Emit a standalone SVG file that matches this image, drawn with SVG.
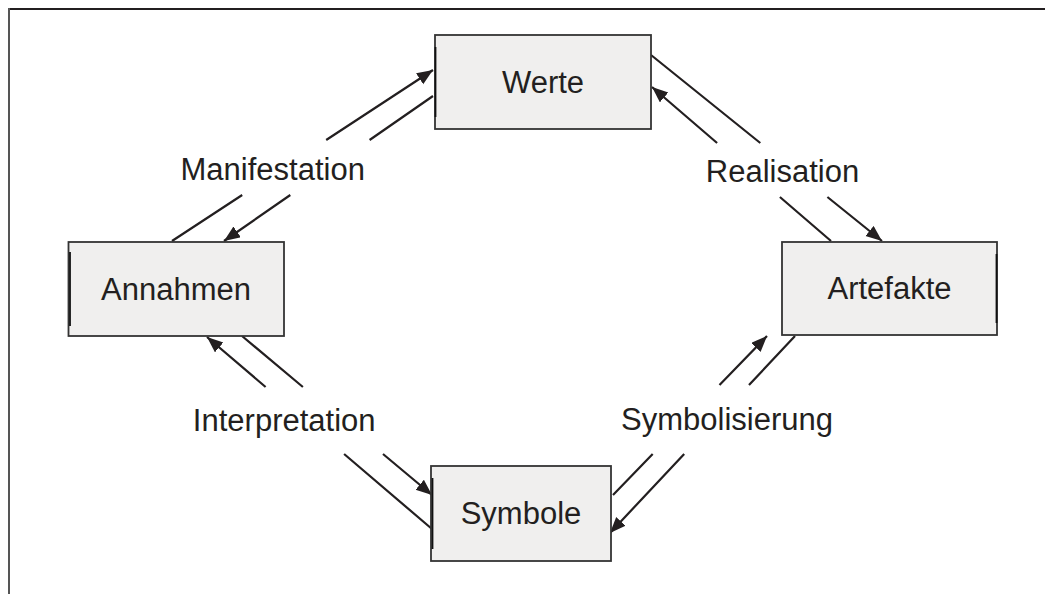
<svg xmlns="http://www.w3.org/2000/svg" width="1045" height="594" viewBox="0 0 1045 594">
<defs>
<marker id="ah" markerUnits="userSpaceOnUse" markerWidth="17" markerHeight="14" refX="16" refY="6.5" orient="auto" viewBox="0 0 17 14">
<path d="M0,0 L16,6.5 L0,13 Z" fill="#231f20"/>
</marker>
<style>
.box{fill:#f0efee;stroke:#333;stroke-width:1.8}
.edge{stroke:#111;stroke-width:1.8}
.lbl{font-family:"Liberation Sans",Arial,sans-serif;font-size:31px;fill:#231f20;text-anchor:middle}
.con{fill:none;stroke:#231f20;stroke-width:2.2}
</style>
</defs>
<rect width="1045" height="594" fill="#fff"/>
<g id="frame">
<line x1="8" y1="9" x2="1045" y2="9" stroke="#231f20" stroke-width="2"/>
<line x1="9" y1="8" x2="9" y2="594" stroke="#555" stroke-width="2"/>
</g>
<g id="connectors" class="con">
<path d="M172,241 L242.2,195 M326.2,140 L433,70" marker-end="url(#ah)"/>
<path d="M433,96 L369.6,140 M290.3,195 L224,241" marker-end="url(#ah)"/>
<path d="M651,55 L760.3,143 M827.4,197 L882,241" marker-end="url(#ah)"/>
<path d="M831,241 L779.9,197 M717.1,143 L652,87" marker-end="url(#ah)"/>
<path d="M432,529 L344.1,454 M265.6,387 L207,337" marker-end="url(#ah)"/>
<path d="M242,336 L302.9,387 M383,454 L432,495" marker-end="url(#ah)"/>
<path d="M613,495 L652.7,454 M719.5,385 L767,336" marker-end="url(#ah)"/>
<path d="M795,336 L749,385 M684.2,454 L610,533" marker-end="url(#ah)"/>
</g>
<g id="node-werte">
<rect class="box" x="435" y="35" width="216" height="94"/>
<line class="edge" x1="435.5" y1="47" x2="435.5" y2="117"/>
<text class="lbl" x="543" y="93">Werte</text>
</g>
<g id="node-artefakte">
<rect class="box" x="782" y="242" width="215" height="93"/>
<line class="edge" x1="996.5" y1="254" x2="996.5" y2="323"/>
<text class="lbl" x="889.5" y="298.5">Artefakte</text>
</g>
<g id="node-annahmen">
<rect class="box" x="68.5" y="242" width="215.5" height="94"/>
<line class="edge" x1="70" y1="252" x2="70" y2="326"/>
<text class="lbl" x="176" y="299.5">Annahmen</text>
</g>
<g id="node-symbole">
<rect class="box" x="431" y="466" width="180" height="95"/>
<line class="edge" x1="432.5" y1="478" x2="432.5" y2="549"/>
<text class="lbl" x="521" y="523.5">Symbole</text>
</g>
<g id="labels">
<text class="lbl" x="272.7" y="179.5">Manifestation</text>
<text class="lbl" x="782.5" y="181.5">Realisation</text>
<text class="lbl" x="284.2" y="431">Interpretation</text>
<text class="lbl" x="727" y="430">Symbolisierung</text>
</g>
</svg>
